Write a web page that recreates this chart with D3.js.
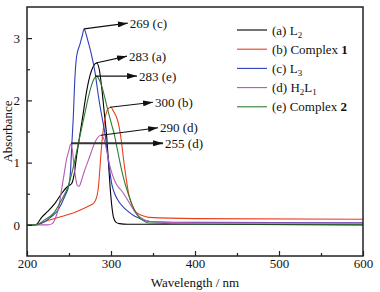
<!DOCTYPE html>
<html><head><meta charset="utf-8">
<script src="https://cdn.jsdelivr.net/npm/d3@7"></script>
<style>body{margin:0;background:#fff}svg{display:block}text{font-family:"Liberation Serif","Times New Roman",serif}</style>
</head><body>
<svg id="c" width="380" height="292"></svg>
<script>
// wavelength (nm) / absorbance pairs for each spectrum
const wlA = [200,210,218,225,233,241,247,251,253,256,259,263,267,271,275,279,283,286,289,292,295,297,299,301,303,306,310,320,400,600];
const absA = [0,0,0.13,0.22,0.34,0.5,0.6,0.64,0.66,0.8,1.1,1.45,1.8,2.15,2.4,2.55,2.6,2.5,2.2,1.8,1.4,1.0,0.6,0.3,0.12,0.04,0.02,0.01,0.01,0.0];
const wlB = [200,210,215,220,230,240,250,260,270,276,280,283,285,287,289,291,294,297,300,303,306,309,312,315,318,321,325,330,337,345,400,600];
const absB = [0,0,0.02,0.05,0.09,0.13,0.17,0.22,0.28,0.32,0.36,0.45,0.6,0.95,1.3,1.55,1.78,1.87,1.89,1.82,1.75,1.62,1.38,1.05,0.75,0.5,0.32,0.2,0.15,0.12,0.1,0.09];
const wlC = [200,210,220,228,237,245,250,252,253,255,257,259,263,266,268,270,273,277,281,285,289,293,297,301,305,309,315,321,327,333,340,350,400,600];
const absC = [0,0,0.04,0.12,0.24,0.46,0.65,0.9,1.2,1.7,2.35,2.7,2.9,3.05,3.15,3.08,2.93,2.72,2.45,2.07,1.75,1.45,1.02,0.65,0.48,0.38,0.28,0.21,0.15,0.11,0.07,0.05,0.04,0.035];
const wlD = [200,225,230,235,238,241,244,247,250,252,254,256,258,260,262,265,268,272,276,280,284,288,291,294,297,300,304,308,313,318,322,326,330,335,340,350,400,600];
const absD = [0,0,0.02,0.15,0.3,0.55,0.8,1.05,1.2,1.3,1.2,0.95,0.75,0.63,0.62,0.72,0.85,1.0,1.15,1.3,1.4,1.44,1.4,1.25,1.05,0.88,0.72,0.62,0.54,0.44,0.35,0.26,0.18,0.12,0.08,0.05,0.035,0.03];
const wlE = [200,210,221,233,241,249,255,261,265,269,273,277,280,283,286,289,292,295,298,301,304,307,310,313,317,321,325,329,333,337,345,400,600];
const absE = [0,0,0.08,0.21,0.4,0.62,0.92,1.3,1.55,1.8,2.05,2.25,2.35,2.39,2.33,2.23,2.08,1.91,1.75,1.6,1.45,1.25,1.05,0.86,0.65,0.48,0.33,0.21,0.13,0.08,0.03,0.015,0.01];

const seriesKeys = ["a","b","c","d","e"];
const seriesColors = ["#000000","#e8401c","#2b3fb8","#b45ab4","#2e7d32"];

// legend labels: [text, kind] kind: n normal, s subscript, b bold
const legendLabels = [
  [["(a) L","n"],["2","s"]],
  [["(b) Complex ","n"],["1","b"]],
  [["(c) L","n"],["3","s"]],
  [["(d) H","n"],["2","s"],["L","n"],["1","s"]],
  [["(e) Complex ","n"],["2","b"]]
];

// annotations: label, from (nm, A), to (nm, A)
const annLabels = ["269 (c)","283 (a)","283 (e)","300 (b)","290 (d)","255 (d)"];
const annFrom = [[268,3.15],[282.1,2.6],[281,2.39],[298.8,1.89],[288,1.44],[252.4,1.31]];
const annTo = [[320,3.24],[319,2.71],[331,2.39],[350,1.97],[356,1.56],[362,1.31]];

const xMajor = [200,300,400,500,600];
const xMinor = [250,350,450,550];
const yMajor = [0,1,2,3];
const yMinor = [0.5,1.5,2.5];

const svg = d3.select("#c");
const L=27,R=363,T=7,B=256;
const x = d3.scaleLinear().domain([200,600]).range([L,R]);
const y = d3.scaleLinear().domain([-0.5,3.5]).range([B,T]);

const defs = svg.append("defs");
defs.append("clipPath").attr("id","clip").append("rect").attr("x",L).attr("y",T).attr("width",R-L).attr("height",B-T);
defs.append("marker").attr("id","arr").attr("viewBox","0 0 10 6").attr("refX",10).attr("refY",3)
  .attr("markerWidth",10).attr("markerHeight",6).attr("markerUnits","userSpaceOnUse").attr("orient","auto")
  .append("path").attr("d","M0,0L10,3L0,6Z").attr("fill","#111");

const data = [[wlA,absA],[wlB,absB],[wlC,absC],[wlD,absD],[wlE,absE]];
const line = d3.line().x(d=>x(d[0])).y(d=>y(d[1])).curve(d3.curveMonotoneX);
const g = svg.append("g").attr("clip-path","url(#clip)");
data.forEach((s,i)=>{
  const pts = s[0].map((w,j)=>[w,s[1][j]]);
  g.append("path").datum(pts).attr("d",line).attr("fill","none").attr("stroke",seriesColors[i]).attr("stroke-width",1.1);
});

// axes
const fs = 13;
const xa = svg.append("g").attr("transform",`translate(0,${B})`)
  .call(d3.axisBottom(x).tickValues(xMajor).tickSizeInner(-5).tickSizeOuter(0).tickPadding(3).tickFormat(d3.format("d")));
xa.select(".domain").remove();
xa.selectAll("text").attr("font-size",fs).attr("fill","#111");
xa.selectAll("line").attr("stroke","#222").attr("stroke-width",1.2);
const xm = svg.append("g").attr("transform",`translate(0,${B})`).call(d3.axisBottom(x).tickValues(xMinor).tickSizeInner(-3).tickSizeOuter(0).tickFormat(""));
xm.select(".domain").remove(); xm.selectAll("line").attr("stroke","#222").attr("stroke-width",1.2);

const ya = svg.append("g").attr("transform",`translate(${L},0)`)
  .call(d3.axisLeft(y).tickValues(yMajor).tickSizeInner(-5).tickSizeOuter(0).tickPadding(7).tickFormat(d3.format("d")));
ya.select(".domain").remove();
ya.selectAll("text").attr("font-size",fs).attr("fill","#111");
ya.selectAll("line").attr("stroke","#222").attr("stroke-width",1.2);
const ym = svg.append("g").attr("transform",`translate(${L},0)`).call(d3.axisLeft(y).tickValues(yMinor).tickSizeInner(-3).tickSizeOuter(0).tickFormat(""));
ym.select(".domain").remove(); ym.selectAll("line").attr("stroke","#222").attr("stroke-width",1.2);

svg.append("rect").attr("x",L).attr("y",T).attr("width",R-L).attr("height",B-T).attr("fill","none").attr("stroke","#222").attr("stroke-width",1.5);

svg.append("text").attr("x",(L+R)/2).attr("y",287).attr("text-anchor","middle").attr("font-size",fs).attr("fill","#111").text("Wavelength / nm");
svg.append("text").attr("transform",`translate(12,${(T+B)/2}) rotate(-90)`).attr("text-anchor","middle").attr("font-size",fs).attr("fill","#111").text("Absorbance");

// annotations
annLabels.forEach((lab,i)=>{
  const f=annFrom[i], t=annTo[i];
  svg.append("line").attr("x1",x(f[0])).attr("y1",y(f[1])).attr("x2",x(t[0])).attr("y2",y(t[1]))
    .attr("stroke",i===5?"#333":"#111").attr("stroke-width",i===5?2:1.2).attr("marker-end","url(#arr)");
  svg.append("text").attr("x",x(t[0])+2).attr("y",y(t[1])+4.5).attr("font-size",fs).attr("fill","#111").text(lab);
});

// legend
const lg = svg.append("g");
legendLabels.forEach((parts,i)=>{
  const yy = 30 + i*19.2;
  lg.append("line").attr("x1",237).attr("x2",267).attr("y1",yy).attr("y2",yy).attr("stroke",seriesColors[i]).attr("stroke-width",1.1);
  const t = lg.append("text").attr("x",272).attr("y",yy+4.5).attr("font-size",fs).attr("fill","#111");
  parts.forEach((p,j)=>{
    const ts = t.append("tspan").text(p[0]);
    if(p[1]==="s"){ ts.attr("font-size",9).attr("dy",3); }
    else if(j>0 && parts[j-1][1]==="s"){ ts.attr("dy",-3); }
    if(p[1]==="b"){ ts.attr("font-weight","bold"); }
  });
});
</script>
</body></html>
